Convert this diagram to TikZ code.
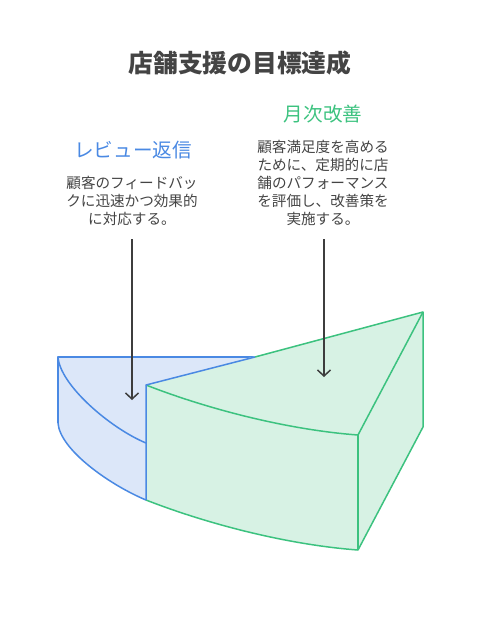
\documentclass[tikz,border=0pt]{standalone}
\usepackage{fontspec}
\setmainfont{Noto Sans CJK JP}
\usetikzlibrary{arrows.meta}
\definecolor{bstroke}{HTML}{4A89E3}
\definecolor{bfill}{HTML}{DCE7F9}
\definecolor{gstroke}{HTML}{3CC27F}
\definecolor{gfill}{HTML}{D7F2E4}
\definecolor{txt}{HTML}{444444}
\definecolor{arr}{HTML}{3D3D3D}
\tikzset{
  titletext/.style={font={\fontsize{24.8}{28}\selectfont\bfseries}, text=txt},
  headtext/.style={font={\fontsize{19.6}{22}\selectfont}},
  bodytext/.style={font={\fontsize{14.6}{18}\selectfont}, text=txt, align=center},
  bluestroke/.style={draw=bstroke, line width=1.5pt, line join=round},
  greenstroke/.style={draw=gstroke, line width=1.5pt, line join=round},
  pointer/.style={draw=arr, line width=1.5pt, -{Straight Barb[length=6pt,width=13pt,line width=1.5pt]}}
}
\begin{document}
\begin{tikzpicture}[x=1pt,y=-1pt]
\useasboundingbox (0,0) rectangle (480,625);
% title
\node[titletext] (title) at (240,63) {店舗支援の目標達成};
% headers
\node[headtext, text=bstroke] (h1) at (133,150) {レビュー返信};
\node[headtext, text=gstroke] (h2) at (323,114) {月次改善};
% bodies
\node[bodytext] (b1) at (132,201) {顧客のフィードバッ\\クに迅速かつ効果的\\に対応する。};
\node[bodytext] (b2) at (323,183) {顧客満足度を高める\\ために、定期的に店\\舗のパフォーマンス\\を評価し、改善策を\\実施する。};
% blue slice
\path[fill=bfill] (58,357) -- (255,357) -- (146,385) -- (146,500)
  .. controls (110,485) and (60,450) .. (58,423) -- cycle;
\draw[bluestroke] (58,423) -- (58,357) -- (255,357);
\draw[bluestroke] (58,357) .. controls (60,385) and (110,428) .. (146,443);
\draw[bluestroke] (58,423) .. controls (60,450) and (110,485) .. (146,500);
% green slice
\path[fill=gfill] (146,385) -- (423,312) -- (423,427) -- (358,550)
  .. controls (290,545) and (210,525) .. (146,500) -- cycle;
\draw[greenstroke] (255,357) -- (423,312) -- (423,427) -- (358,550)
  .. controls (290,545) and (210,525) .. (146,500);
\draw[greenstroke] (146,385) .. controls (210,410) and (290,430) .. (358,435) -- (423,312);
\draw[greenstroke] (358,435) -- (358,550);
\draw[bluestroke] (146,500) -- (146,385) -- (255,357);
% arrows
\coordinate (a1s) at (132,239);
\coordinate (a1e) at (132,400);
\coordinate (a2s) at (324,239);
\coordinate (a2e) at (324,377);
\draw[pointer] (a1s) -- (a1e);
\draw[pointer] (a2s) -- (a2e);
\end{tikzpicture}
\end{document}
